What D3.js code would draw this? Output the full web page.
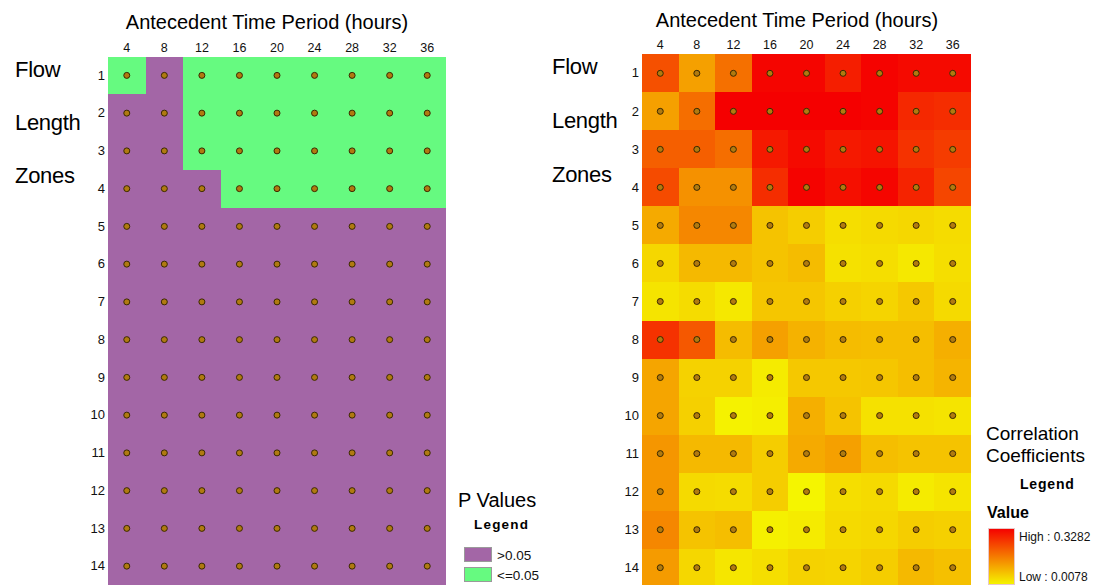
<!DOCTYPE html>
<html><head><meta charset="utf-8">
<script src="https://cdn.jsdelivr.net/npm/d3@7"></script>
<style>
html,body{margin:0;padding:0;background:#fff;}
svg{display:block;font-family:"Liberation Sans",Arial,sans-serif;}
</style></head>
<body>
<svg id="chart" width="1108" height="585"></svg>
<script>
// ---------- data ----------
const hours = [4, 8, 12, 16, 20, 24, 28, 32, 36];
const zones = [1, 2, 3, 4, 5, 6, 7, 8, 9, 10, 11, 12, 13, 14];
const groupLabels = ["Flow", "Length", "Zones"];
const pClasses = [">0.05", "<=0.05"];
// 1 = p <= 0.05, 0 = p > 0.05 (rows = zones, cols = hours)
const pSignificant = [
  [1,0,1,1,1,1,1,1,1],
  [0,0,1,1,1,1,1,1,1],
  [0,0,1,1,1,1,1,1,1],
  [0,0,0,1,1,1,1,1,1],
  [0,0,0,0,0,0,0,0,0],
  [0,0,0,0,0,0,0,0,0],
  [0,0,0,0,0,0,0,0,0],
  [0,0,0,0,0,0,0,0,0],
  [0,0,0,0,0,0,0,0,0],
  [0,0,0,0,0,0,0,0,0],
  [0,0,0,0,0,0,0,0,0],
  [0,0,0,0,0,0,0,0,0],
  [0,0,0,0,0,0,0,0,0],
  [0,0,0,0,0,0,0,0,0]
];
const corrRange = [0.0078, 0.3282];
const correlation = [
  [0.224,0.119,0.182,0.322,0.322,0.289,0.324,0.315,0.315],
  [0.119,0.184,0.328,0.328,0.328,0.328,0.324,0.276,0.269],
  [0.204,0.204,0.184,0.296,0.315,0.296,0.302,0.263,0.250],
  [0.230,0.139,0.139,0.269,0.324,0.309,0.322,0.282,0.237],
  [0.106,0.152,0.152,0.073,0.060,0.038,0.043,0.047,0.040],
  [0.047,0.086,0.086,0.073,0.082,0.034,0.038,0.025,0.038],
  [0.030,0.040,0.025,0.069,0.069,0.056,0.051,0.067,0.043],
  [0.263,0.213,0.082,0.119,0.095,0.082,0.080,0.080,0.099],
  [0.112,0.054,0.054,0.021,0.067,0.067,0.069,0.080,0.093],
  [0.112,0.056,0.012,0.017,0.099,0.073,0.034,0.034,0.030],
  [0.132,0.086,0.086,0.060,0.106,0.119,0.080,0.073,0.073],
  [0.132,0.043,0.040,0.060,0.008,0.038,0.043,0.021,0.030],
  [0.152,0.073,0.080,0.014,0.021,0.043,0.047,0.060,0.056],
  [0.125,0.047,0.027,0.038,0.054,0.051,0.060,0.086,0.077]
];

// ---------- drawing ----------
const svg = d3.select("#chart");
const FONT = '"Liberation Sans",Arial,sans-serif';
const PURPLE = "#a366a6", GREEN = "#66fa80";
const pColor = d3.scaleOrdinal().domain([0,1]).range([PURPLE, GREEN]);
const cColor = d3.scaleLinear().domain(corrRange).range(["#f5f500", "#f50000"]);

function panel(opts) {
  const g = svg.append("g");
  const x = d3.scaleBand().domain(hours).range(opts.xr);
  const y = d3.scaleBand().domain(zones).range(opts.yr);
  const cells = [];
  zones.forEach((z, i) => hours.forEach((h, j) => cells.push({z, h, v: opts.values[i][j]})));
  g.selectAll("rect.cell").data(cells).join("rect")
    .attr("class", "cell")
    .attr("x", d => Math.round(x(d.h))).attr("y", d => Math.round(y(d.z)))
    .attr("width", d => Math.round(x(d.h) + x.bandwidth()) - Math.round(x(d.h)) + (d.h === hours[hours.length-1] ? 0 : 1))
    .attr("height", d => Math.round(y(d.z) + y.bandwidth()) - Math.round(y(d.z)) + 1)
    .attr("shape-rendering", "crispEdges")
    .attr("fill", d => opts.color(d.v));
  g.selectAll("circle.dot").data(cells).join("circle")
    .attr("class", "dot")
    .attr("cx", d => x(d.h) + x.bandwidth() / 2)
    .attr("cy", d => y(d.z) + y.bandwidth() / 2)
    .attr("r", 3)
    .attr("fill", "#b07a10").attr("stroke", "#3a2800").attr("stroke-width", 1);

  const ax = g.append("g").attr("transform", `translate(0,${opts.yr[0]})`)
    .call(d3.axisTop(x).tickSize(0).tickPadding(opts.tickPad));
  ax.select(".domain").remove();
  ax.selectAll("text").attr("font-family", FONT).attr("font-size", 12.5).attr("fill", "#111");

  const ay = g.append("g").attr("transform", `translate(${opts.xr[0]},0)`)
    .call(d3.axisLeft(y).tickSize(0).tickPadding(3));
  ay.select(".domain").remove();
  ay.selectAll("text").attr("font-family", FONT).attr("font-size", 13).attr("fill", "#111");

  g.append("text").attr("x", opts.titleX).attr("y", opts.titleY)
    .attr("text-anchor", "middle").attr("font-family", FONT).attr("font-size", 20)
    .attr("fill", "#000").text("Antecedent Time Period (hours)");

  g.selectAll("text.grp").data(groupLabels).join("text")
    .attr("class", "grp")
    .attr("x", opts.grpX).attr("y", (d, i) => opts.grpY[i])
    .attr("font-family", FONT).attr("font-size", 22).attr("letter-spacing", -0.3)
    .attr("fill", "#000").text(d => d);
}

panel({xr: [108, 446], yr: [56.5, 585], values: pSignificant, color: pColor,
  tickPad: 4.5, titleX: 267, titleY: 29, grpX: 15, grpY: [77, 130, 183]});
panel({xr: [642, 971], yr: [54.3, 586.7], values: correlation, color: cColor,
  tickPad: 5.3, titleX: 797, titleY: 27, grpX: 552, grpY: [74, 128, 182]});

// ---------- P value legend ----------
const lg = svg.append("g");
lg.append("text").attr("x", 458).attr("y", 507).attr("font-family", FONT)
  .attr("font-size", 20).text("P Values");
lg.append("text").attr("x", 474).attr("y", 529).attr("font-family", FONT)
  .attr("font-size", 13.5).attr("font-weight", "bold").attr("letter-spacing", 1.2).text("Legend");
const py = d3.scaleBand().domain(pClasses).range([546, 586]);
lg.selectAll("rect.key").data(pClasses).join("rect").attr("class", "key")
  .attr("x", 464.5).attr("y", d => py(d) + 1.5).attr("width", 27).attr("height", 14)
  .attr("fill", (d, i) => pColor(i)).attr("stroke", "#9a9a9a").attr("stroke-width", 1);
lg.selectAll("text.key").data(pClasses).join("text").attr("class", "key")
  .attr("x", 497).attr("y", d => py(d) + 13.5).attr("font-family", FONT)
  .attr("font-size", 13.5).attr("fill", "#111").text(d => d);

// ---------- Correlation legend ----------
const cg = svg.append("g");
cg.append("text").attr("x", 986).attr("y", 440).attr("font-family", FONT)
  .attr("font-size", 19).text("Correlation");
cg.append("text").attr("x", 986).attr("y", 462).attr("font-family", FONT)
  .attr("font-size", 19).text("Coefficients");
cg.append("text").attr("x", 1020).attr("y", 489).attr("font-family", FONT)
  .attr("font-size", 14).attr("font-weight", "bold").attr("letter-spacing", 0.8).text("Legend");
cg.append("text").attr("x", 987).attr("y", 518).attr("font-family", FONT)
  .attr("font-size", 16).attr("font-weight", "bold").text("Value");
const grad = svg.append("defs").append("linearGradient").attr("id", "cgrad")
  .attr("x1", 0).attr("y1", 0).attr("x2", 0).attr("y2", 1);
grad.append("stop").attr("offset", "0%").attr("stop-color", cColor(corrRange[1]));
grad.append("stop").attr("offset", "100%").attr("stop-color", cColor(corrRange[0]));
cg.append("rect").attr("x", 988.5).attr("y", 528.5).attr("width", 26).attr("height", 56)
  .attr("fill", "url(#cgrad)").attr("stroke", "#e8c8c8").attr("stroke-width", 1);
cg.append("text").attr("x", 1019).attr("y", 541).attr("font-family", FONT)
  .attr("font-size", 12).attr("fill", "#111").text("High : " + corrRange[1].toFixed(4));
cg.append("text").attr("x", 1019).attr("y", 581).attr("font-family", FONT)
  .attr("font-size", 12).attr("fill", "#111").text("Low : " + corrRange[0].toFixed(4));
</script>
</body></html>
